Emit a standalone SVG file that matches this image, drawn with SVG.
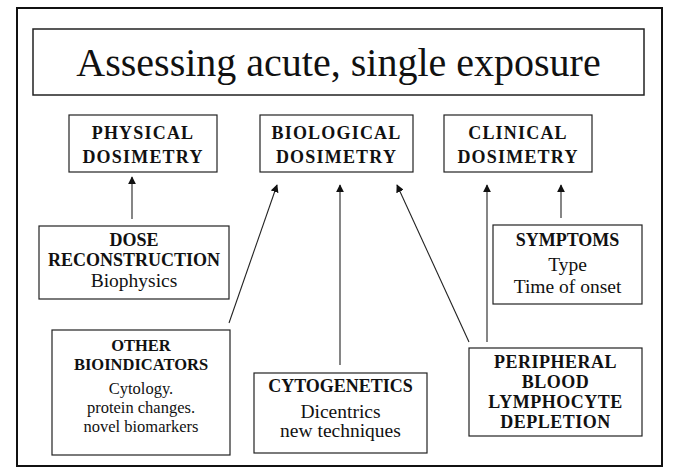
<svg xmlns="http://www.w3.org/2000/svg" width="678" height="471" viewBox="0 0 678 471">
<defs>
<style>
.box{fill:#fff;stroke:#222;stroke-width:1.2}
.h{font-family:"Liberation Serif","Times New Roman",serif;font-weight:bold;font-size:18px;fill:#111;text-anchor:middle}
.hs{letter-spacing:1.2px}
.t{font-family:"Liberation Serif","Times New Roman",serif;font-size:19.5px;fill:#111;text-anchor:middle}
.s{font-size:16.5px}
.c{stroke:#222;stroke-width:1.1;fill:none;marker-end:url(#ah)}
</style>
<marker id="ah" viewBox="0 0 10 10" refX="9" refY="5" markerWidth="8" markerHeight="8" markerUnits="userSpaceOnUse" orient="auto">
<path d="M0,0 L10,5 L0,10 z" fill="#111"/>
</marker>
</defs>
<rect x="0" y="0" width="678" height="471" fill="#fff"/>
<rect x="17" y="8" width="645" height="458" fill="none" stroke="#111" stroke-width="2"/>
<g id="title">
<rect x="33" y="29" width="611" height="66" fill="#fff" stroke="#222" stroke-width="1.5"/>
<text x="338.5" y="76" font-family="'Liberation Serif','Times New Roman',serif" font-size="40" text-anchor="middle" fill="#111">Assessing acute, single exposure</text>
</g>
<g id="connectors">
<line class="c" x1="132" y1="219" x2="132" y2="177"/>
<line class="c" x1="229" y1="323" x2="277" y2="185"/>
<line class="c" x1="340" y1="365" x2="340" y2="185"/>
<line class="c" x1="469" y1="342" x2="397" y2="185"/>
<line class="c" x1="487" y1="342" x2="487" y2="185"/>
<line class="c" x1="561" y1="218" x2="561" y2="185"/>
</g>
<g id="physical">
<rect class="box" x="69" y="115" width="148" height="57"/>
<text class="h hs" x="143" y="139">PHYSICAL</text>
<text class="h hs" x="143" y="163">DOSIMETRY</text>
</g>
<g id="biological">
<rect class="box" x="260" y="115" width="153" height="57"/>
<text class="h hs" x="336.5" y="139">BIOLOGICAL</text>
<text class="h hs" x="336.5" y="163">DOSIMETRY</text>
</g>
<g id="clinical">
<rect class="box" x="444" y="115" width="148" height="57"/>
<text class="h hs" x="518" y="139">CLINICAL</text>
<text class="h hs" x="518" y="163">DOSIMETRY</text>
</g>
<g id="dose">
<rect class="box" x="39" y="226" width="190" height="73"/>
<text class="h" x="134" y="246">DOSE</text>
<text class="h" x="134" y="266">RECONSTRUCTION</text>
<text class="t" x="134" y="287">Biophysics</text>
</g>
<g id="symptoms">
<rect class="box" x="493" y="225" width="149" height="79"/>
<text class="h" x="567.5" y="246">SYMPTOMS</text>
<text class="t" x="567.5" y="271">Type</text>
<text class="t" x="567.5" y="293">Time of onset</text>
</g>
<g id="other">
<rect class="box" x="52" y="330" width="178" height="125"/>
<text class="h s" x="141" y="351">OTHER</text>
<text class="h s" x="141" y="370">BIOINDICATORS</text>
<text class="t s" x="141" y="394">Cytology.</text>
<text class="t s" x="141" y="413">protein changes.</text>
<text class="t s" x="141" y="432">novel biomarkers</text>
</g>
<g id="cytogenetics">
<rect class="box" x="254" y="373" width="173" height="80"/>
<text class="h" x="340.5" y="392">CYTOGENETICS</text>
<text class="t" x="340.5" y="418">Dicentrics</text>
<text class="t" x="340.5" y="437">new techniques</text>
</g>
<g id="peripheral">
<rect class="box" x="469" y="348" width="173" height="88"/>
<text class="h" x="555.5" y="368" letter-spacing="0.5">PERIPHERAL</text>
<text class="h" x="555.5" y="388" letter-spacing="0.5">BLOOD</text>
<text class="h" x="555.5" y="408" letter-spacing="0.5">LYMPHOCYTE</text>
<text class="h" x="555.5" y="428" letter-spacing="0.5">DEPLETION</text>
</g>
</svg>
